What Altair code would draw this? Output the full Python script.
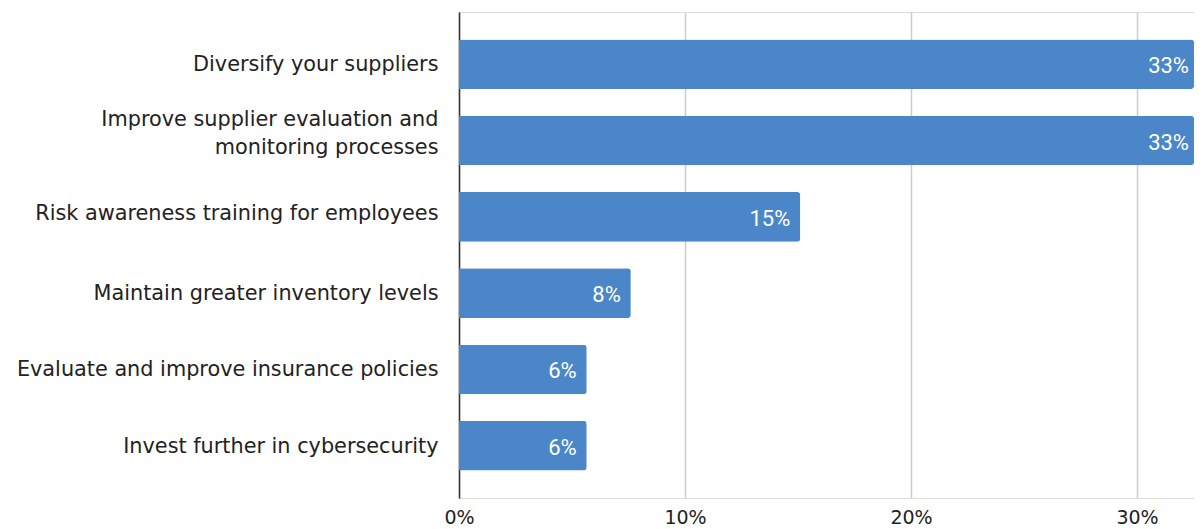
import altair as alt
import pandas as pd

categories = [
    "Diversify your suppliers\u00a0",
    "Improve supplier evaluation and|monitoring processes",
    "Risk awareness training for employees",
    "Maintain greater inventory levels",
    "Evaluate and improve insurance policies",
    "Invest further in cybersecurity",
]
values = [0.331, 0.331, 0.151, 0.076, 0.0565, 0.0565]
value_labels = ["33%", "33%", "15%", "8%", "6%", "6%"]
x_ticks = [0, 0.1, 0.2, 0.3]

df = pd.DataFrame({"cat": categories, "val": values, "lbl": value_labels})

FONT = "DejaVu Sans"
x_max = 0.3252

label_offset = {
    "condition": [
        {"test": "indexof(datum.value, '|') >= 0", "value": -21},
        {"test": "indexof(datum.value, 'Risk') == 0", "value": -3},
    ],
    "value": 1,
}

y_enc = alt.Y(
    "cat:N",
    sort=categories,
    title=None,
    scale=alt.Scale(paddingInner=0.35, paddingOuter=0.36),
    axis=alt.Axis(
        labelExpr="split(datum.value, '|')",
        labelFont=FONT,
        labelFontSize=20.8,
        labelColor="#222222",
        labelPadding=21,
        labelLineHeight=28,
        labelOffset=label_offset,
        ticks=False,
        domain=True,
        domainColor="#333333",
        domainWidth=1.5,
        labelLimit=600,
        grid=False,
    ),
)

x_enc = alt.X(
    "barend:Q",
    title=None,
    scale=alt.Scale(domain=[0, x_max], nice=False),
    axis=alt.Axis(
        values=x_ticks,
        format=".0%",
        labelFont=FONT,
        labelFontSize=19,
        labelColor="#222222",
        labelPadding=10,
        ticks=False,
        domain=False,
        grid=True,
        gridColor="#cccccc",
        gridWidth=1.5,
        labelFlush=False,
    ),
)

base = alt.Chart(df).transform_calculate(
    barend=f"min(datum.val, {x_max})",
    lblpos=f"min(datum.val, {x_max + 0.0022})",
)

bars = base.mark_bar(
    color="#4a86c8", cornerRadiusTopRight=3, cornerRadiusBottomRight=3
).encode(x=x_enc, y=y_enc)

text = base.mark_text(
    align="right", baseline="middle", dx=-10, dy=2, color="white",
    font="Roboto", fontSize=22, fontWeight="normal"
).encode(
    x=alt.X("lblpos:Q"),
    y=alt.Y("cat:N", sort=categories),
    text="lbl:N",
)

chart = (
    alt.layer(bars, text)
    .properties(
        width=735,
        height=486,
        padding={"left": 451, "top": 4, "right": 0, "bottom": 31},
        autosize=alt.AutoSizeParams(type="none"),
    )
    .configure_view(strokeWidth=0)
    .configure(background="white")
)

chart.save("out.html", embed_options={"renderer": "svg", "actions": False})
